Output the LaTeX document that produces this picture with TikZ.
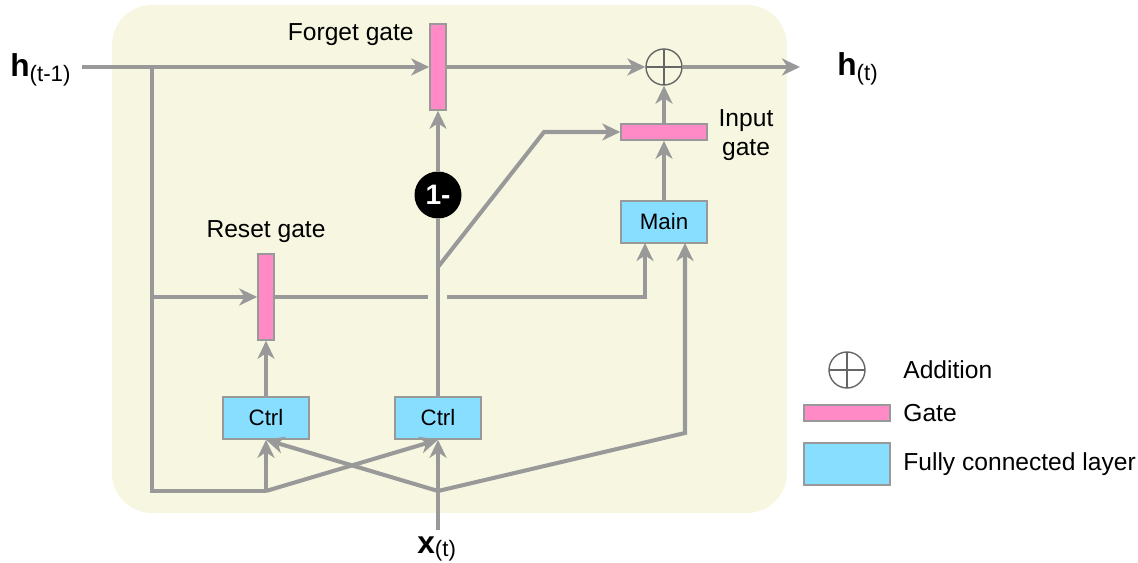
\documentclass[tikz,border=0pt]{standalone}
\usepackage{fontspec}
\setmainfont{Liberation Sans}
\usetikzlibrary{arrows.meta, positioning}
\definecolor{cellbg}{HTML}{F7F7E1}
\definecolor{wiregray}{HTML}{999999}
\definecolor{opgray}{HTML}{666666}
\definecolor{gatepink}{HTML}{FF8AC6}
\definecolor{fcblue}{HTML}{88DEFF}

\begin{document}
\begin{tikzpicture}[x=0.02cm, y=-0.02cm,
    >={Stealth[length=3.6mm, width=3.4mm, inset=1.1mm]},
    wire/.style={draw=wiregray, line width=2.3pt},
    lbl/.style={inner sep=0pt, font=\fontsize{14}{16.5}\selectfont},
    gatebox/.style={draw=wiregray, line width=0.9pt, fill=gatepink, inner sep=0pt},
    vgate/.style={gatebox, minimum width=0.32cm, minimum height=1.72cm},
    hgate/.style={gatebox, minimum width=1.72cm, minimum height=0.32cm},
    fcbox/.style={draw=wiregray, line width=0.9pt, fill=fcblue, inner sep=0pt,
      minimum width=1.72cm, minimum height=0.84cm, font=\fontsize{12.7}{14}\selectfont},
    addop/.style={circle, draw=opgray, line width=0.8pt, minimum size=0.72cm, inner sep=0pt,
      path picture={\draw[opgray, line width=0.8pt]
        (path picture bounding box.north) -- (path picture bounding box.south)
        (path picture bounding box.west) -- (path picture bounding box.east);}}]
  \useasboundingbox (0,0) rectangle (1138,563);
  % Cell background
  \fill[cellbg, rounded corners=0.8cm] (112,5) rectangle (787,513);

  % Gates and layers
  \node[vgate] (forget) at (438,67) {};
  \node[vgate] (reset) at (266,297) {};
  \node[hgate] (input) at (664,132) {};
  \node[addop] (add) at (664,67) {};
  \node[fcbox] (main) at (664,222) {Main};
  \node[fcbox] (ctrlr) at (266,418) {Ctrl};
  \node[fcbox] (ctrlu) at (438,418) {Ctrl};
  \node[circle, fill=black, minimum size=0.94cm, inner sep=0pt, text=white,
    font=\fontsize{16}{18}\selectfont\bfseries] (oneminus) at (438,195) {1-};

  % Labels
  \node[lbl, anchor=east] (forgetlbl) at (414,35) {Forget gate};
  \node[lbl] (resetlbl) at (266,232) {Reset gate};
  \node[lbl, align=center] (inputlbl) at (746,135) {Input\\gate};
  \node[anchor=base west, inner sep=0pt] (hprev) at (10,77)
    {{\fontsize{18}{20}\selectfont\bfseries h}{\fontsize{12.7}{14}\selectfont\raisebox{-2.4pt}{(t-1)}}};
  \node[anchor=base west, inner sep=0pt] (hnext) at (837,76)
    {{\fontsize{18}{20}\selectfont\bfseries h}{\fontsize{12.7}{14}\selectfont\raisebox{-2.4pt}{(t)}}};
  \node[anchor=base west, inner sep=0pt] (xin) at (417,553)
    {{\fontsize{18}{20}\selectfont\bfseries x}{\fontsize{12.7}{14}\selectfont\raisebox{-1.8pt}{(t)}}};

  % Junction points
  \coordinate (hstart) at (82,67);
  \coordinate (hend) at (800,67);
  \coordinate (tapA) at (152,67);
  \coordinate (tapB) at (152,297);
  \coordinate (tapC) at (152,491);
  \coordinate (joinr) at (266,491);
  \coordinate (joinx) at (438,491);
  \coordinate (xstart) at (438,530);
  \coordinate (gapl) at (428,297);
  \coordinate (gapr) at (447,297);
  \coordinate (mainl) at (645,243);
  \coordinate (mainr) at (685,243);
  \coordinate (bendm) at (685,433);
  \coordinate (split) at (438,267);
  \coordinate (bendi) at (544,132);

  % Hidden state path
  \draw[wire, ->] (hstart) -- (forget.west);
  \draw[wire, ->] (forget.east) -- (add.west);
  \draw[wire, ->] (add.east) -- (hend);
  \draw[wire] (tapA) -- (tapC) -- (joinr);
  \draw[wire, ->] (tapB) -- (reset.west);
  \draw[wire] (reset.east) -- (gapl);
  \draw[wire, ->] (gapr) -| (mainl);

  % Update branch
  \draw[wire] (ctrlu.north) -- (oneminus.south);
  \draw[wire, ->] (oneminus.north) -- (forget.south);
  \draw[wire, ->] (split) -- (bendi) -- (input.west);
  \draw[wire, ->] (ctrlr) -- (reset);
  \draw[wire, ->] (main) -- (input);
  \draw[wire, ->] (input) -- (add);

  % Input x(t)
  \draw[wire, ->] (xstart) -- (ctrlu.south);
  \draw[wire, ->] (joinr) -- (ctrlr.south);
  \draw[wire, ->] (joinr) -- (ctrlu.south);
  \draw[wire, ->] (joinx) -- (ctrlr.south);
  \draw[wire, ->] (joinx) -- (bendm) -- (mainr);

  % Legend
  \node[addop] (legadd) at (847,370) {};
  \node[lbl, anchor=west] (legaddlbl) at (903,370) {Addition};
  \node[hgate] (leggate) at (847,413) {};
  \node[lbl, anchor=west] (leggatelbl) at (903,413) {Gate};
  \node[fcbox] (legfc) at (847,464) {};
  \node[lbl, anchor=west] (legfclbl) at (903,464) {Fully connected layer};
\end{tikzpicture}
\end{document}
